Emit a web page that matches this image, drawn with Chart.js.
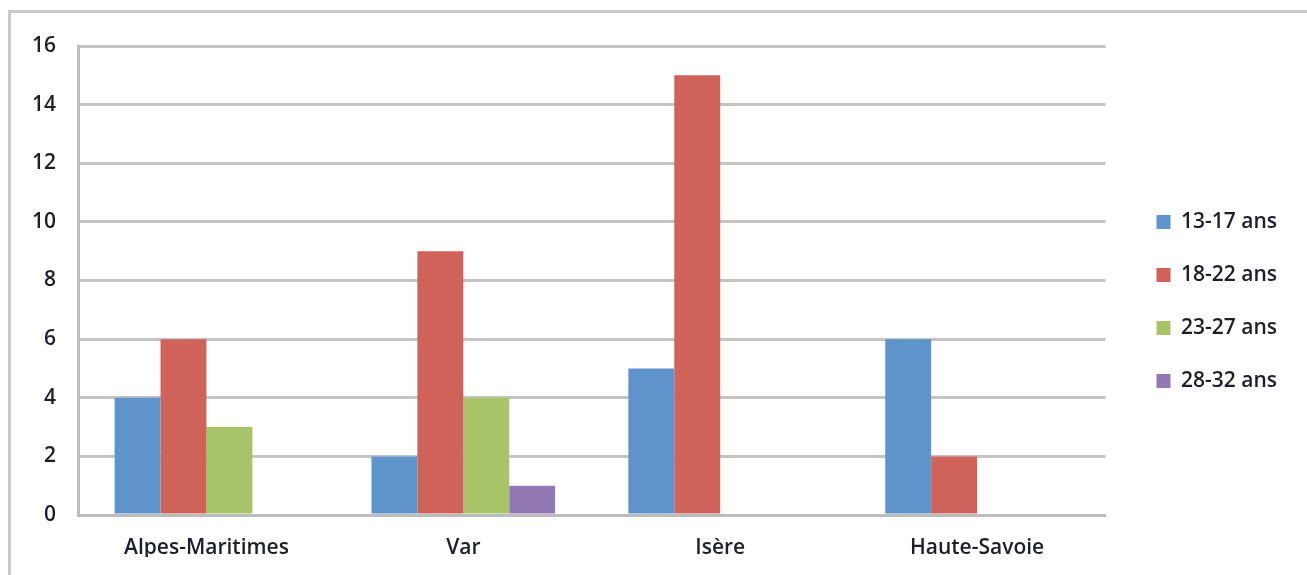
<!DOCTYPE html>
<html>
<head>
<meta charset="utf-8">
<script src="https://cdn.jsdelivr.net/npm/chart.js@4"></script>
<style>
    body { margin: 0; background: #fff; }
    #wrap { position: relative; width: 1307px; height: 575px; overflow: hidden; }
    #cadre { position: absolute; left: 8px; top: 10px; width: 1400px; height: 700px; border: 3px solid #c8c8c8; }
    #graph { position: absolute; left: 0; top: 0; }
</style>
</head>
<body>
<div id="wrap">
    <div id="cadre"></div>
    <canvas id="graph" width="1307" height="575"></canvas>
</div>
<script>
// Départements et effectifs par tranche d'âge
const departements = ['Alpes-Maritimes', 'Var', 'Isère', 'Haute-Savoie'];
const tranches = ['13-17 ans', '18-22 ans', '23-27 ans', '28-32 ans'];
const ans13a17 = [4, 2, 5, 6];
const ans18a22 = [6, 9, 15, 2];
const ans23a27 = [3, 4, 0, 0];
const ans28a32 = [0, 1, 0, 0];
const couleurs = ['#5e94cb', '#cf6259', '#a8c468', '#9279b3'];

const series = [ans13a17, ans18a22, ans23a27, ans28a32];

const police = { family: '"Open Sans", sans-serif', size: 21, weight: '600' };

new Chart(document.getElementById('graph').getContext('2d'), {
    type: 'bar',
    data: {
        labels: departements,
        datasets: series.map((valeurs, i) => ({
            label: tranches[i],
            data: valeurs,
            backgroundColor: couleurs[i],
            borderWidth: 0
        }))
    },
    options: {
        responsive: false,
        animation: false,
        layout: { padding: { top: 46, right: 20, left: 0, bottom: 18 } },
        datasets: { bar: { categoryPercentage: 0.715, barPercentage: 1 } },
        plugins: {
            tooltip: { enabled: false },
            legend: {
                position: 'right',
                labels: {
                    color: '#1e1e2a',
                    font: police,
                    boxWidth: 14,
                    boxHeight: 14,
                    padding: 32
                }
            }
        },
        scales: {
            x: {
                grid: { display: false },
                border: { color: '#bdbdbd', width: 3 },
                ticks: { color: '#1e1e2a', font: police, padding: 12 },
                afterFit: (s) => { s.height = 42; }
            },
            y: {
                min: 0,
                max: 16,
                ticks: { stepSize: 2, color: '#1e1e2a', font: police, padding: 22 },
                grid: { color: '#c4c4c4', lineWidth: 3, drawTicks: false },
                border: { color: '#bdbdbd', width: 3 },
                afterFit: (s) => { s.width = 78; }
            },
            // axe vide : écart entre la zone du graphique et la légende
            marge: {
                position: 'right',
                grid: { display: false },
                border: { display: false },
                ticks: { display: false },
                afterFit: (s) => { s.width = 19; }
            }
        }
    }
});
</script>
</body>
</html>
